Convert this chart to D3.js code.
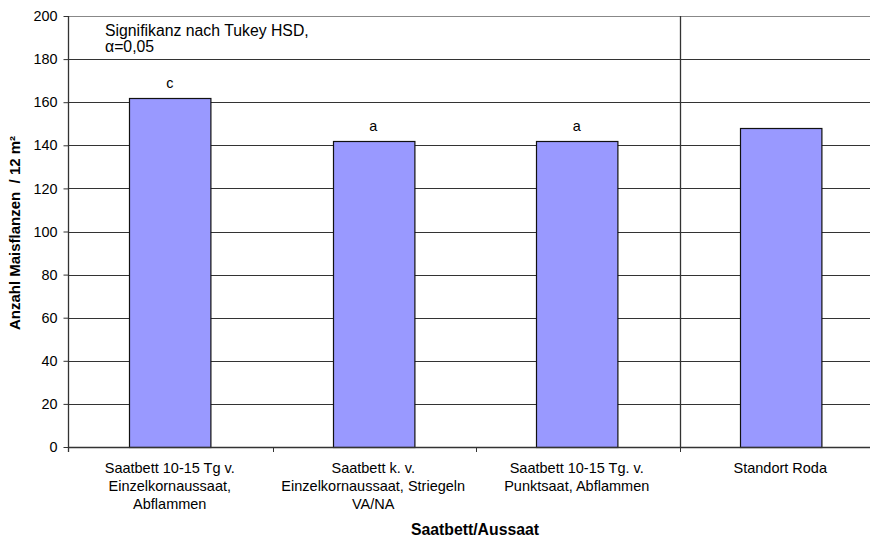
<!DOCTYPE html>
<html><head><meta charset="utf-8">
<script src="https://cdn.jsdelivr.net/npm/d3@7"></script>
<style>body{margin:0;background:#fff;} text{font-family:"Liberation Sans",Arial,sans-serif;}</style>
</head><body>
<svg id="c" width="870" height="541"></svg>
<script>
const categories = [
  ["Saatbett 10-15 Tg v.","Einzelkornaussaat,","Abflammen"],
  ["Saatbett k. v.","Einzelkornaussaat, Striegeln","VA/NA"],
  ["Saatbett 10-15 Tg. v.","Punktsaat, Abflammen"],
  ["Standort Roda"]
];
const values = [162, 142, 142, 148];
const sigLetters = ["c", "a", "a", ""];
const yTicks = [0,20,40,60,80,100,120,140,160,180,200];
const yTitle = "Anzahl Maisflanzen  / 12 m²";
const xTitle = "Saatbett/Aussaat";
const note = ["Signifikanz nach Tukey HSD,", "α=0,05"];

const svg = d3.select("#c");
const pL = 68, pR = 882, pT = 16, pB = 447;
const ids = categories.map((d,i)=>i);
const x = d3.scaleBand().domain(ids).range([pL,pR]).paddingInner(0.6).paddingOuter(0.3);
const y = d3.scaleLinear().domain([0,200]).range([pB,pT]);
const step = x.step();

// gridlines
svg.append("g").selectAll("line").data(yTicks.filter(t=>t>0)).join("line")
  .attr("x1",pL).attr("x2",870).attr("y1",d=>Math.round(y(d))+0.5).attr("y2",d=>Math.round(y(d))+0.5)
  .attr("stroke",d=>d===200?"#888":"#333").attr("stroke-width",1);

// separator line between group 3 and 4
const sepX = Math.round(x(3) - step*0.3) + 1.5;
svg.append("line").attr("x1",sepX).attr("x2",sepX).attr("y1",y(200)).attr("y2",y(0))
  .attr("stroke","#333").attr("stroke-width",1.3);

// bars
svg.append("g").selectAll("rect").data(values).join("rect")
  .attr("x",(d,i)=>Math.round(x(i))+0.5).attr("y",d=>Math.round(y(d))+0.5)
  .attr("width",x.bandwidth()).attr("height",d=>y(0)-Math.round(y(d)))
  .attr("fill","#9999FF").attr("stroke","#111").attr("stroke-width",1.2);

// significance letters
svg.append("g").selectAll("text").data(values).join("text")
  .attr("x",(d,i)=>x(i)+x.bandwidth()/2).attr("y",d=>y(d)-9.5)
  .attr("text-anchor","middle").attr("font-size",14.4).attr("fill","#000")
  .text((d,i)=>sigLetters[i]);

// y axis
const ya = svg.append("g").attr("transform",`translate(${pL+0.5},0)`)
  .call(d3.axisLeft(y).tickValues(yTicks).tickSize(5).tickPadding(6));
ya.select(".domain").attr("stroke","#333").attr("stroke-width",1.3).attr("d",`M0,${pT}V${pB+5}`);
ya.selectAll(".tick line").attr("stroke","#333");
ya.selectAll(".tick text").attr("font-size",14.4).attr("fill","#000")
  .attr("font-family","Liberation Sans, Arial, sans-serif");

// x axis
svg.append("line").attr("x1",pL).attr("x2",870).attr("y1",pB+0.5).attr("y2",pB+0.5)
  .attr("stroke","#333").attr("stroke-width",1.3);
const bounds = ids.slice(1).map(i=>Math.round(x(i)-step*0.3)+1.5);
svg.append("g").selectAll("line").data(bounds).join("line")
  .attr("x1",d=>d).attr("x2",d=>d).attr("y1",pB).attr("y2",pB+5)
  .attr("stroke","#333");

// category labels
const cl = svg.append("g").selectAll("text").data(categories).join("text")
  .attr("text-anchor","middle").attr("font-size",14.5).attr("fill","#000");
cl.each(function(lines,i){
  const t = d3.select(this);
  lines.forEach((ln,j)=>{
    t.append("tspan").attr("x",x(i)+x.bandwidth()/2).attr("y",473+j*18).text(ln);
  });
});

// axis titles
svg.append("text").attr("x",475).attr("y",535).attr("text-anchor","middle")
  .attr("font-size",15.8).attr("font-weight","bold").text(xTitle);
svg.append("text").attr("transform","translate(20,233) rotate(-90)").attr("text-anchor","middle")
  .attr("font-size",15).attr("font-weight","bold").style("white-space","pre").text(yTitle);

// note
svg.append("g").selectAll("text").data(note).join("text")
  .attr("x",105).attr("y",(d,i)=>35.5+i*16).attr("font-size",15.8).text(d=>d);
</script>
</body></html>
